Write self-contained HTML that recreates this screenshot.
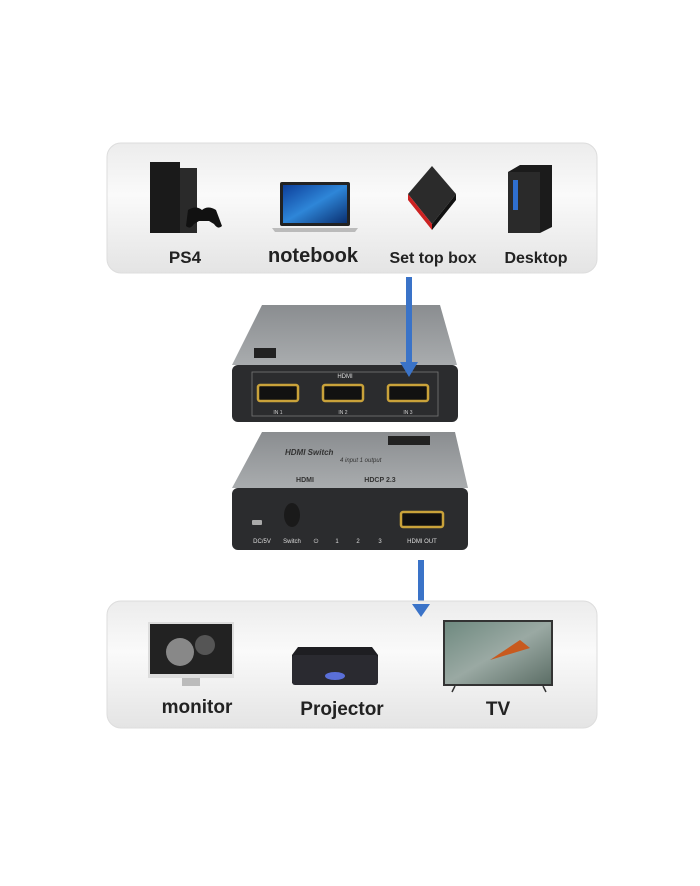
<!DOCTYPE html>
<html><head><meta charset="utf-8"><style>
html,body{margin:0;padding:0;background:#fff;}
svg{display:block;}
text{font-family:"Liberation Sans",sans-serif;}
</style></head><body>
<svg width="700" height="886" viewBox="0 0 700 886" xmlns="http://www.w3.org/2000/svg">
<defs>
<linearGradient id="pg" x1="0" y1="0" x2="0" y2="1"><stop offset="0" stop-color="#ececec"/><stop offset=".4" stop-color="#fafafa"/><stop offset="1" stop-color="#e4e4e4"/></linearGradient>
<linearGradient id="top" x1="0" y1="0" x2="0" y2="1"><stop offset="0" stop-color="#8a8d90"/><stop offset="1" stop-color="#a9acae"/></linearGradient>
<linearGradient id="scr" x1="0" y1="0" x2="1" y2="1"><stop offset="0" stop-color="#0d3f9a"/><stop offset=".5" stop-color="#2e86d8"/><stop offset="1" stop-color="#0a2f70"/></linearGradient>
<linearGradient id="tv" x1="0" y1="0" x2="1" y2="1"><stop offset="0" stop-color="#6f8a80"/><stop offset=".5" stop-color="#9aa9a3"/><stop offset="1" stop-color="#5c6e66"/></linearGradient>
</defs>
<!-- top panel -->
<rect x="107" y="143" width="490" height="130" rx="14" fill="url(#pg)" stroke="#ddd"/>
<!-- PS4 -->
<rect x="150" y="162" width="30" height="71" fill="#1a1a1a"/>
<rect x="180" y="168" width="17" height="65" fill="#2a2a2a"/>
<path d="M188 210 q8-5 14 0 q6-5 14 0 l6 16 q-4 4-8-2 l-5-3 h-10 l-5 3 q-4 6-8 2z" fill="#111"/>
<!-- laptop -->
<rect x="280" y="182" width="70" height="44" rx="2" fill="#222"/>
<rect x="283" y="185" width="64" height="38" fill="url(#scr)"/>
<path d="M272 228 h86 l-3 4 h-80z" fill="#bbb"/>
<!-- set top box -->
<path d="M432 166 l24 28 l-24 30 l-24-30z" fill="#2b2b2b"/>
<path d="M408 194 l24 30 v6 l-24-30z" fill="#cc2222"/>
<path d="M432 224 l24-30 v6 l-24 30z" fill="#111"/>
<!-- desktop -->
<path d="M508 172 l12-7 h32 v62 l-12 6 h-32z" fill="#1b1b1b"/>
<rect x="508" y="172" width="32" height="61" fill="#2a2a2a"/>
<rect x="513" y="180" width="5" height="30" fill="#2f6fd0"/>
<text x="185" y="263" font-size="17" font-weight="bold" fill="#222" text-anchor="middle">PS4</text>
<text x="313" y="262" font-size="20" font-weight="bold" fill="#222" text-anchor="middle">notebook</text>
<text x="433" y="263" font-size="16" font-weight="bold" fill="#222" text-anchor="middle">Set top box</text>
<text x="536" y="263" font-size="16" font-weight="bold" fill="#222" text-anchor="middle">Desktop</text>
<!-- device 1 -->
<path d="M262 305 h178 l17 60 h-225z" fill="url(#top)"/>
<rect x="232" y="365" width="226" height="57" rx="6" fill="#2b2c2e"/>
<rect x="252" y="372" width="186" height="44" fill="none" stroke="#777" stroke-width="0.8"/>
<text x="345" y="378" font-size="6" fill="#ddd" text-anchor="middle">HDMI</text>
<g fill="#111" stroke="#c9a23a" stroke-width="2.5">
<rect x="258" y="385" width="40" height="16" rx="2"/><rect x="323" y="385" width="40" height="16" rx="2"/><rect x="388" y="385" width="40" height="16" rx="2"/></g>
<text x="278" y="414" font-size="5" fill="#ccc" text-anchor="middle">IN 1</text>
<text x="343" y="414" font-size="5" fill="#ccc" text-anchor="middle">IN 2</text>
<text x="408" y="414" font-size="5" fill="#ccc" text-anchor="middle">IN 3</text>
<rect x="254" y="348" width="22" height="10" fill="#222"/>
<!-- device 2 -->
<path d="M262 432 h193 l13 56 h-236z" fill="url(#top)"/>
<text x="285" y="455" font-size="8" font-style="italic" font-weight="bold" fill="#333" font-family="Liberation Serif">HDMI Switch</text>
<text x="340" y="462" font-size="6" font-style="italic" fill="#333" font-family="Liberation Serif">4 input 1 output</text>
<text x="305" y="482" font-size="7" font-weight="bold" fill="#333" text-anchor="middle">HDMI</text>
<text x="380" y="482" font-size="7" font-weight="bold" fill="#333" text-anchor="middle">HDCP 2.3</text>
<rect x="388" y="436" width="42" height="9" fill="#222"/>
<rect x="232" y="488" width="236" height="62" rx="6" fill="#2b2c2e"/>
<rect x="252" y="520" width="10" height="5" rx="1" fill="#aaa"/>
<ellipse cx="292" cy="515" rx="8" ry="12" fill="#1a1a1a"/>
<g font-size="6" fill="#ddd" text-anchor="middle">
<text x="262" y="543">DC/5V</text><text x="292" y="543">Switch</text><text x="316" y="543">⏻</text><text x="337" y="543">1</text><text x="358" y="543">2</text><text x="380" y="543">3</text><text x="422" y="543">HDMI OUT</text></g>
<rect x="401" y="512" width="42" height="15" rx="2" fill="#111" stroke="#c9a23a" stroke-width="2.5"/>
<!-- arrows -->
<rect x="406" y="277" width="6" height="88" fill="#3a73c8"/>
<path d="M400 362 h18 l-9 15z" fill="#3a73c8"/>
<rect x="418" y="560" width="6" height="46" fill="#3a73c8"/>
<!-- bottom panel -->
<rect x="107" y="601" width="490" height="127" rx="14" fill="url(#pg)" stroke="#ddd"/>
<path d="M412 604 h18 l-9 13z" fill="#3a73c8"/>
<!-- monitor -->
<rect x="148" y="622" width="86" height="56" fill="#ddd"/>
<rect x="150" y="624" width="82" height="50" fill="#222"/>
<circle cx="180" cy="652" r="14" fill="#888"/><circle cx="205" cy="645" r="10" fill="#555"/>
<rect x="182" y="678" width="18" height="8" fill="#bbb"/>
<!-- projector -->
<path d="M298 647 h74 l6 8 v28 h-86 v-28z" fill="#1e1e22"/>
<rect x="292" y="655" width="86" height="30" rx="3" fill="#2a2a30"/>
<ellipse cx="335" cy="676" rx="10" ry="4" fill="#5a6fd8"/>
<!-- TV -->
<rect x="443" y="620" width="110" height="66" fill="#333"/>
<rect x="445" y="622" width="106" height="62" fill="url(#tv)"/>
<path d="M490 660 l30-20 l10 8z" fill="#c85a1e"/>
<path d="M455 686 l-3 6 M543 686 l3 6" stroke="#333" stroke-width="1.5"/>
<text x="197" y="713" font-size="19" font-weight="bold" fill="#222" text-anchor="middle">monitor</text>
<text x="342" y="715" font-size="19" font-weight="bold" fill="#222" text-anchor="middle">Projector</text>
<text x="498" y="715" font-size="19" font-weight="bold" fill="#222" text-anchor="middle">TV</text>
</svg>
</body></html>
